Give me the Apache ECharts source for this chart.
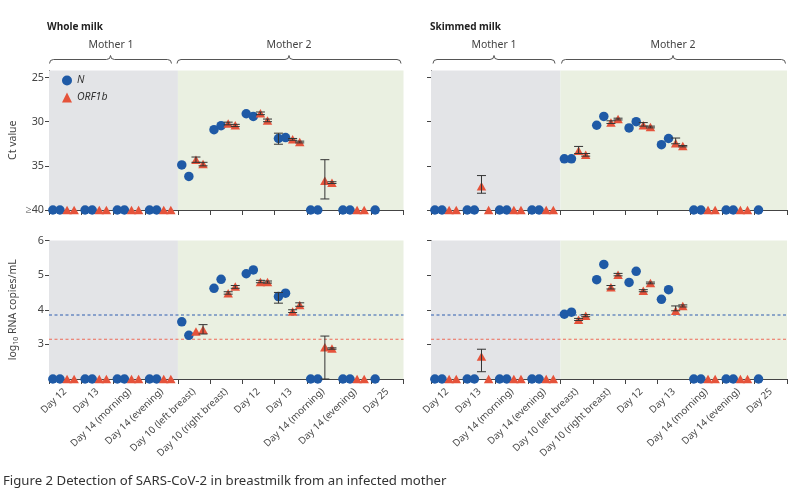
<!DOCTYPE html>
<html><head><meta charset="utf-8">
<script src="https://cdn.jsdelivr.net/npm/echarts@6/dist/echarts.min.js"></script>
<style>html,body{margin:0;padding:0;background:#fff}#c{width:800px;height:490px}</style>
</head><body><div id="c"></div>
<script>
// ---------- data ----------
const categories = ['Day 12','Day 13','Day 14 (morning)','Day 14 (evening)','Day 10 (left breast)','Day 10 (right breast)','Day 12','Day 13','Day 14 (morning)','Day 14 (evening)','Day 25'];
const mother1Count = 4;
const ctTicks = [25, 30, 35, 40];
const logTicks = [3, 4, 5, 6];

// Ct values (40 = undetected, plotted as ≥40); pairs = two replicates per sample
const wholeCtN   = [[40,40],[40,40],[40,40],[40,40],[34.9,36.2],[30.9,30.45],[29.1,29.4],[31.9,31.8],[40,40],[40,40],[40,null]];
const wholeCtORF = [[40,40],[40,40],[40,40],[40,40],[34.3,34.8],[30.2,30.4],[29.05,29.85],[32.0,32.3],[36.7,36.9],[40,40],[null,null]];
const skimCtN    = [[40,40],[40,40],[40,40],[40,40],[34.2,34.2],[30.4,29.4],[30.7,30.0],[32.6,31.9],[40,40],[40,40],[40,null]];
const skimCtORF  = [[40,40],[37.3,40],[40,40],[40,40],[33.3,33.75],[30.1,29.7],[30.4,30.6],[32.45,32.75],[40,40],[40,40],[null,null]];

// log10 RNA copies/mL (2 = undetected)
const wholeLogN   = [[2,2],[2,2],[2,2],[2,2],[3.65,3.26],[4.62,4.88],[5.04,5.15],[4.38,4.48],[2,2],[2,2],[2,null]];
const wholeLogORF = [[2,2],[2,2],[2,2],[2,2],[3.37,3.42],[4.48,4.67],[4.80,4.80],[3.95,4.14],[2.92,2.88],[2,2],[null,null]];
const skimLogN    = [[2,2],[2,2],[2,2],[2,2],[3.87,3.93],[4.87,5.31],[4.79,5.11],[4.30,4.58],[2,2],[2,2],[2,null]];
const skimLogORF  = [[2,2],[2.65,2],[2,2],[2,2],[3.71,3.83],[4.65,5.01],[4.55,4.77],[3.97,4.11],[2,2],[2,2],[null,null]];

// error bars: [sample index, replicate slot (0,1 = N; 2,3 = ORF1b), low, high]
const wholeCtErr  = [[4,2,34.0,34.6],[4,3,34.6,35.0],[5,2,30.05,30.35],[5,3,30.3,30.55],[6,2,28.9,29.2],[6,3,29.7,30.0],[7,0,31.3,32.55],[7,2,31.9,32.1],[7,3,32.2,32.4],[8,2,34.3,38.75],[8,3,36.8,37.0]];
const skimCtErr   = [[1,2,36.1,38.1],[4,2,32.8,33.6],[4,3,33.6,33.9],[5,2,29.9,30.2],[5,3,29.6,29.8],[6,2,30.1,30.5],[6,3,30.5,30.7],[7,2,31.85,32.5],[7,3,32.7,32.85]];
const wholeLogErr = [[4,3,3.3,3.57],[5,2,4.45,4.52],[5,3,4.62,4.7],[6,2,4.78,4.85],[6,3,4.77,4.83],[7,0,4.19,4.5],[7,2,3.92,4.0],[7,3,4.1,4.2],[8,2,2.0,3.24],[8,3,2.86,2.9]];
const skimLogErr  = [[1,2,2.21,2.86],[4,2,3.69,3.75],[4,3,3.8,3.86],[5,2,4.6,4.7],[5,3,4.98,5.05],[6,2,4.52,4.58],[6,3,4.75,4.8],[7,2,3.97,4.11],[7,3,4.08,4.14]];

// detection limits (log10 copies/mL)
const limitN = 3.85;
const limitORF = 3.15;

// ---------- styling / layout ----------
const FONT = 'Noto Sans';
const BLUE = '#1f5aa6', RED = '#e5533b', GRAY = '#e3e4e7', GREEN = '#eaf0e1', AXIS = '#444';
const slotOffset = [0.12, 0.34, 0.56, 0.78];

function pts(arr, firstSlot) {
  const out = [];
  arr.forEach((pair, i) => pair.forEach((v, j) => { if (v !== null) out.push([i + slotOffset[firstSlot + j], v]); }));
  return out;
}
function bars(arr) { return arr.map(([i, s, lo, hi]) => [i + slotOffset[s], lo, hi]); }

const nCat = categories.length;
const xTickVals = categories.map((_, i) => i).concat([nCat]);
const xLabelVals = categories.map((_, i) => i + 0.5);

const grids = [
  {left: 49, right: 396.5, top: 70.5, height: 139.5},
  {left: 431, right: 13, top: 70.5, height: 139.5},
  {left: 49, right: 396.5, top: 240.5, height: 138.5},
  {left: 431, right: 13, top: 240.5, height: 138.5}
].map(g => Object.assign({containLabel: false, outerBoundsMode: 'none'}, g));

function xAxis(gi, withLabels) {
  return {
    gridIndex: gi, type: 'value', min: 0, max: nCat,
    splitLine: {show: false},
    axisLine: {show: true, lineStyle: {color: AXIS, width: 1}},
    axisTick: {show: true, length: 5, customValues: xTickVals, lineStyle: {color: AXIS}},
    axisLabel: withLabels ? {
      show: true, customValues: xLabelVals, formatter: v => categories[Math.floor(v)],
      rotate: 44, fontSize: 9.8, color: '#4a4a4a', fontFamily: FONT, margin: 11
    } : {show: false}
  };
}
const nameRich = {
  a: {fontSize: 10.5, color: AXIS, fontFamily: FONT},
  s: {fontSize: 7, color: AXIS, fontFamily: FONT, verticalAlign: 'bottom', padding: [5, 0, 0, 0]}
};
function yCt(gi, withLabels) {
  return {
    gridIndex: gi, type: 'value', inverse: true, min: 24.2, max: 40,
    splitLine: {show: false},
    axisLine: {show: true, lineStyle: {color: AXIS}},
    axisTick: {show: true, length: 4, customValues: ctTicks, lineStyle: {color: AXIS}},
    axisLabel: {show: withLabels, customValues: ctTicks, formatter: v => v === 40 ? '≥40' : String(v),
      fontSize: 10.8, color: AXIS, fontFamily: FONT, margin: 5},
    name: withLabels ? 'Ct value' : '', nameLocation: 'middle', nameGap: 30,
    nameTextStyle: {fontSize: 10.5, color: AXIS, fontFamily: FONT}
  };
}
function yLog(gi, withLabels) {
  return {
    gridIndex: gi, type: 'value', min: 2, max: 6,
    splitLine: {show: false},
    axisLine: {show: true, lineStyle: {color: AXIS}},
    axisTick: {show: true, length: 4, customValues: logTicks, lineStyle: {color: AXIS}},
    axisLabel: {show: withLabels, customValues: logTicks, fontSize: 10.8, color: AXIS, fontFamily: FONT, margin: 5},
    name: withLabels ? '{a|log}{s|10}{a| RNA copies/mL}' : '', nameLocation: 'middle', nameGap: 30,
    nameTextStyle: {rich: nameRich}
  };
}

function errSeries(gi, arr) {
  return {
    type: 'custom', xAxisIndex: gi, yAxisIndex: gi, z: 5, silent: true,
    data: bars(arr),
    renderItem: function (params, api) {
      const x = api.value(0);
      const p1 = api.coord([x, api.value(1)]);
      const p2 = api.coord([x, api.value(2)]);
      const w = 4.5;
      const st = {stroke: '#333', lineWidth: 1};
      return {type: 'group', children: [
        {type: 'line', shape: {x1: p1[0], y1: p1[1], x2: p2[0], y2: p2[1]}, style: st},
        {type: 'line', shape: {x1: p1[0] - w, y1: p1[1], x2: p1[0] + w, y2: p1[1]}, style: st},
        {type: 'line', shape: {x1: p2[0] - w, y1: p2[1], x2: p2[0] + w, y2: p2[1]}, style: st}
      ]};
    }
  };
}
function bgSeries(gi) {
  return {
    type: 'scatter', xAxisIndex: gi, yAxisIndex: gi, data: [], z: 1, silent: true,
    markArea: {silent: true, data: [
      [{xAxis: 0, itemStyle: {color: GRAY}}, {xAxis: mother1Count}],
      [{xAxis: mother1Count, itemStyle: {color: GREEN}}, {xAxis: nCat}]
    ]}
  };
}
function limitSeries(gi, value, color) {
  return {
    type: 'line', xAxisIndex: gi, yAxisIndex: gi, z: 2, silent: true,
    symbol: 'none', showSymbol: false,
    lineStyle: {color: color, type: [3, 2.5], width: 1.1},
    data: [[0, value], [nCat, value]]
  };
}
function scat(gi, name, arr, firstSlot) {
  const isN = name === 'N';
  return {
    type: 'scatter', name: name, xAxisIndex: gi, yAxisIndex: gi, z: isN ? 3 : 4,
    symbol: isN ? 'circle' : 'triangle', symbolSize: isN ? 9.5 : [9.5, 8.5],
    itemStyle: {color: isN ? BLUE : RED, opacity: 1},
    data: pts(arr, firstSlot)
  };
}

const panels = [
  {n: wholeCtN, o: wholeCtORF, e: wholeCtErr},
  {n: skimCtN, o: skimCtORF, e: skimCtErr},
  {n: wholeLogN, o: wholeLogORF, e: wholeLogErr},
  {n: skimLogN, o: skimLogORF, e: skimLogErr}
];
const series = [];
panels.forEach((p, gi) => {
  series.push(bgSeries(gi));
  if (gi >= 2) {
    series.push(limitSeries(gi, limitN, '#2f5db0'));
    series.push(limitSeries(gi, limitORF, '#ee6a58'));
  }
  series.push(scat(gi, 'N', p.n, 0));
  series.push(scat(gi, 'ORF1b', p.o, 2));
  series.push(errSeries(gi, p.e));
});

// curly brace built from lines and quadratic curves
function braceEl(x1, x2, xm) {
  const y0 = 63.5, y1 = 59.5, y2 = 55.5, r = 4;
  const st = {stroke: '#555', lineWidth: 1, fill: null};
  const q = (ax, ay, bx, by, cx, cy) => ({type: 'bezierCurve', silent: true,
    shape: {x1: ax, y1: ay, x2: bx, y2: by, cpx1: cx, cpy1: cy}, style: st});
  const l = (ax, ay, bx, by) => ({type: 'line', silent: true, shape: {x1: ax, y1: ay, x2: bx, y2: by}, style: st});
  return {type: 'group', silent: true, children: [
    q(x1, y0, x1 + r, y1, x1, y1),
    l(x1 + r, y1, xm - r, y1),
    q(xm - r, y1, xm, y2, xm, y1),
    q(xm, y2, xm + r, y1, xm, y1),
    l(xm + r, y1, x2 - r, y1),
    q(x2 - r, y1, x2, y0, x2, y1)
  ]};
}
const txt = (x, y, text, extra) => ({type: 'text', x: x, y: y, silent: true,
  style: Object.assign({text: text, fontFamily: FONT, fontSize: 10.5, fill: '#444', align: 'center', verticalAlign: 'middle'}, extra || {})});

const graphic = [
  txt(47, 27, 'Whole milk', {align: 'left', fontWeight: 'bold', fontSize: 10, fill: '#222'}),
  txt(430, 27, 'Skimmed milk', {align: 'left', fontWeight: 'bold', fontSize: 10, fill: '#222'}),
  txt(111, 45, 'Mother 1'), txt(289, 45, 'Mother 2'),
  txt(494, 45, 'Mother 1'), txt(673, 45, 'Mother 2'),
  braceEl(49.5, 171.5, 110.5), braceEl(177, 401, 289),
  braceEl(433, 555, 494), braceEl(561.5, 785.5, 673),
  txt(3, 481, 'Figure 2 Detection of SARS-CoV-2 in breastmilk from an infected mother',
    {align: 'left', fontSize: 13.2, fill: '#333'})
];

const chart = echarts.init(document.getElementById('c'), null, {renderer: 'canvas'});
chart.setOption({
  animation: false,
  backgroundColor: '#fff',
  grid: grids,
  xAxis: [xAxis(0, false), xAxis(1, false), xAxis(2, true), xAxis(3, true)],
  yAxis: [yCt(0, true), yCt(1, false), yLog(2, true), yLog(3, false)],
  legend: {
    data: [{name: 'N', icon: 'circle'}, {name: 'ORF1b', icon: 'triangle'}],
    orient: 'vertical', left: 62, top: 75, itemWidth: 10, itemHeight: 10, itemGap: 6,
    selectedMode: false,
    textStyle: {fontStyle: 'italic', fontSize: 10.5, color: '#333', fontFamily: FONT},
    padding: 0
  },
  series: series,
  graphic: graphic
});
</script>
</body></html>
